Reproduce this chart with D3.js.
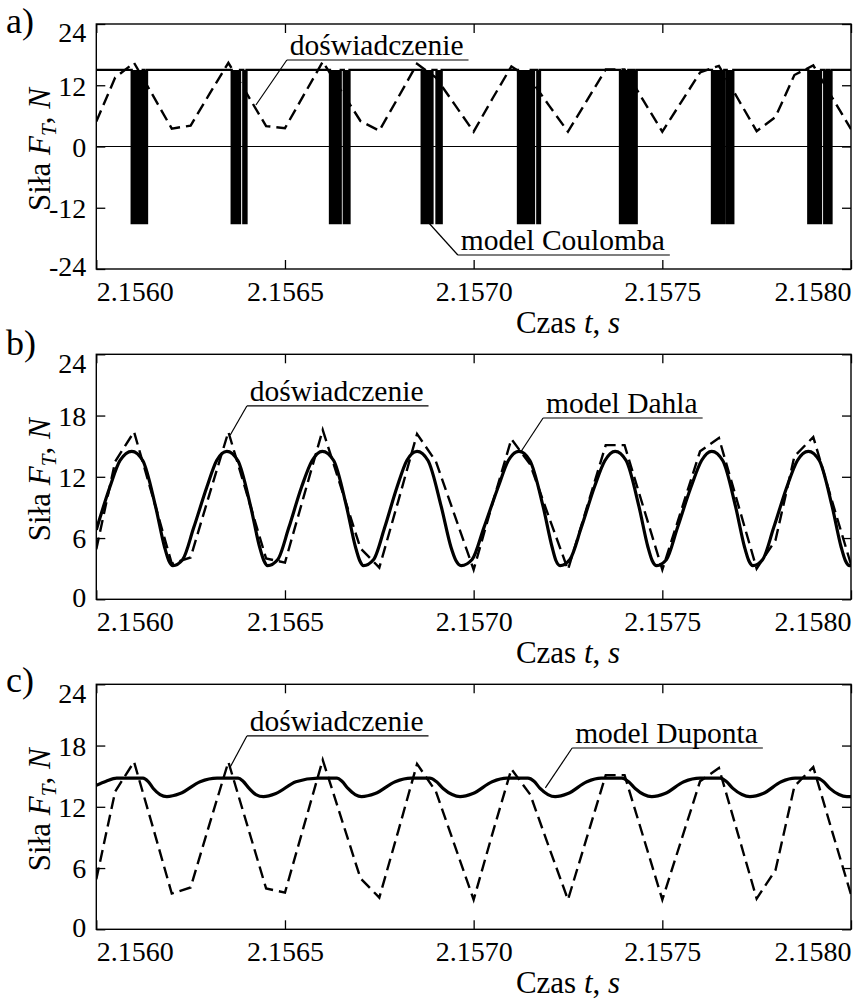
<!DOCTYPE html>
<html><head><meta charset="utf-8">
<script src="https://cdn.jsdelivr.net/npm/d3@7"></script>
<style>
body{margin:0;background:#fff}
svg{font-family:"Liberation Serif","Times New Roman",serif}
text{font-family:"Liberation Serif","Times New Roman",serif;fill:#000}
</style>
</head><body>
<svg id="c" width="855" height="1001"></svg>
<script>
// ---------- DATA ----------
const xTicks = [2.1560, 2.1565, 2.1570, 2.1575, 2.1580];
const xTickLabels = ["2.1560", "2.1565", "2.1570", "2.1575", "2.1580"];
const yTicksA = [-24, -12, 0, 12, 24];
const yTickLabelsA = ["-24", "-12", "0", "12", "24"];
const yTicksBC = [0, 6, 12, 18, 24];
const yTickLabelsBC = ["0", "6", "12", "18", "24"];

// experiment (doświadczenie), sampled every 0.00005 s
const expTime = [2.15600,2.15605,2.15610,2.15615,2.15620,2.15625,2.15630,2.15635,2.15640,2.15645,
  2.15650,2.15655,2.15660,2.15665,2.15670,2.15675,2.15680,2.15685,2.15690,2.15695,
  2.15700,2.15705,2.15710,2.15715,2.15720,2.15725,2.15730,2.15735,2.15740,2.15745,
  2.15750,2.15755,2.15760,2.15765,2.15770,2.15775,2.15780,2.15785,2.15790,2.15795,2.15800];
const expForce = [4.9,13.5,16.4,10.0,3.5,4.1,10.3,16.4,10.2,4.0,
  3.6,10.1,16.6,10.8,5.0,3.1,9.6,16.2,13.5,8.2,
  2.9,9.4,15.7,13.2,8.0,2.9,9.0,15.1,15.1,9.0,
  2.9,8.7,14.5,15.8,9.4,3.0,5.8,14.0,15.9,9.6,3.4];

// Coulomb model (step signal, +15 / -15)
const coulombTime = [2.1560000,2.1560938,2.1561230,2.1561277,2.1561344,
  2.1563588,2.1563808,2.1563896,2.1563980,
  2.1566193,2.1566477,2.1566559,2.1566710,
  2.1568623,2.1568909,2.1569015,2.1569153,
  2.1571175,2.1571512,2.1571565,2.1571599,2.1571687,2.1571758,
  2.1573878,2.1574098,2.1574135,2.1574196,2.1574257,2.1574321,
  2.1576316,2.1576642,2.1576706,2.1576881,
  2.1578868,2.1579205,2.1579290,2.1579356,2.1579417,2.1579483,2.1580000];
const coulombForce = [15,-15,15,-15,15,
  -15,15,-15,15,
  -15,15,-15,15,
  -15,15,-15,15,
  -15,15,-15,15,-15,15,
  -15,15,-15,15,-15,15,
  -15,15,-15,15,
  -15,15,-15,15,-15,15,15];

// Dahl model
const dahlTime = [2.156000,2.156036,2.156063,2.156094,2.156123,2.156157,2.156181,2.156192,2.156203,
  2.156229,2.156258,2.156293,2.156319,2.156346,2.156375,2.156409,2.156433,2.156444,2.156454,
  2.156481,2.156510,2.156544,2.156572,2.156599,2.156629,2.156663,2.156687,2.156698,2.156708,
  2.156735,2.156764,2.156797,2.156823,2.156850,2.156879,2.156914,2.156940,2.156953,2.156967,
  2.156996,2.157027,2.157065,2.157092,2.157120,2.157149,2.157184,2.157208,2.157218,2.157229,
  2.157255,2.157285,2.157320,2.157348,2.157375,2.157404,2.157438,2.157462,2.157473,2.157485,
  2.157511,2.157540,2.157576,2.157604,2.157631,2.157660,2.157694,2.157718,2.157729,2.157740,
  2.157766,2.157795,2.157830,2.157858,2.157887,2.157916,2.157950,2.157974,2.157985,2.157996,2.158000];
const dahlForce = [6.8,11.0,13.6,14.5,13.6,9.1,5.1,3.8,3.3,
  3.9,7.0,11.0,13.6,14.5,13.6,9.1,5.1,3.8,3.3,
  3.9,7.0,11.0,13.6,14.5,13.6,9.1,5.1,3.8,3.3,
  3.9,7.0,11.0,13.6,14.5,13.6,9.1,5.1,3.8,3.3,
  3.9,7.0,11.0,13.6,14.5,13.6,9.1,5.1,3.8,3.3,
  3.9,7.0,11.0,13.6,14.5,13.6,9.1,5.1,3.8,3.3,
  3.9,7.0,11.0,13.6,14.5,13.6,9.1,5.1,3.8,3.3,
  3.9,7.0,11.0,13.6,14.5,13.6,9.1,5.1,3.8,3.3,3.3];

// Dupont model
const dupontTime = [2.156000,2.156026,2.156054,2.156124,2.156137,2.156151,2.156169,2.156187,
  2.156222,2.156275,2.156320,2.156376,2.156389,2.156405,2.156423,2.156443,
  2.156476,2.156529,2.156588,2.156638,2.156651,2.156667,2.156686,2.156703,
  2.156739,2.156792,2.156834,2.156884,2.156900,2.156919,2.156943,2.156964,
  2.156998,2.157049,2.157088,2.157144,2.157160,2.157176,2.157197,2.157216,
  2.157250,2.157300,2.157338,2.157393,2.157409,2.157428,2.157451,2.157472,
  2.157507,2.157557,2.157600,2.157653,2.157669,2.157687,2.157711,2.157732,
  2.157767,2.157815,2.157852,2.157910,2.157926,2.157944,2.157968,2.157989,2.158000];
const dupontForce = [14.1,14.5,14.8,14.8,14.5,13.8,13.2,13.0,
  13.3,14.45,14.8,14.8,14.5,13.8,13.2,13.0,
  13.3,14.45,14.8,14.8,14.5,13.8,13.2,13.0,
  13.3,14.45,14.8,14.8,14.5,13.8,13.2,13.0,
  13.3,14.45,14.8,14.8,14.5,13.8,13.2,13.0,
  13.3,14.45,14.8,14.8,14.5,13.8,13.2,13.0,
  13.3,14.45,14.8,14.8,14.5,13.8,13.2,13.0,
  13.3,14.45,14.8,14.8,14.5,13.8,13.2,13.0,13.0];

// ---------- LAYOUT ----------
const svg = d3.select("#c");
const left = 96.3, right = 851, ph = 245;
const tops = [24, 354.3, 684.3];
const x = d3.scaleLinear().domain([xTicks[0], xTicks[xTicks.length-1]]).range([left, right]);
const zip = (t, v) => t.map((d, i) => [d, v[i]]);
const expData = zip(expTime, expForce);
const FONT = '"Liberation Serif","Times New Roman",serif';

function drawPanel(i, cfg) {
  const top = tops[i], bottom = top + ph;
  const y = d3.scaleLinear().domain([cfg.yTicks[0], cfg.yTicks[cfg.yTicks.length-1]]).range([bottom, top]);
  const g = svg.append("g").style("font-family", FONT);
  const clipId = "clip" + i;
  svg.append("clipPath").attr("id", clipId).append("rect")
    .attr("x", left).attr("y", top).attr("width", right-left).attr("height", ph);
  const plot = g.append("g").attr("clip-path", `url(#${clipId})`);
  cfg.draw(plot, y);

  const line = d3.line().x(d => x(d[0])).y(d => y(d[1]));
  plot.append("path").datum(expData).attr("d", line)
    .attr("fill", "none").attr("stroke", "#000").attr("stroke-width", 2.4)
    .attr("stroke-dasharray", "12,6");

  // frame
  g.append("rect").attr("x", left).attr("y", top).attr("width", right-left).attr("height", ph)
    .attr("fill", "none").attr("stroke", "#000").attr("stroke-width", 1.4);

  // axes
  const styleAxis = a => { a.attr("font-size", null).attr("font-family", null).style("font-family", FONT);
    a.select(".domain").remove(); a.selectAll("line").attr("stroke-width", 1.3); };
  const axB = g.append("g").attr("transform", `translate(0,${bottom})`)
    .call(d3.axisBottom(x).tickValues(xTicks).tickSize(-9).tickSizeOuter(0).tickFormat((d, j) => xTickLabels[j]));
  styleAxis(axB);
  axB.selectAll("text").attr("y", 32).attr("dy", 0).style("font-size", "28px")
    .attr("text-anchor", (d, j) => j === 0 ? "start" : (j === xTicks.length-1 ? "end" : "middle"));
  const axT = g.append("g").attr("transform", `translate(0,${top})`)
    .call(d3.axisTop(x).tickValues(xTicks).tickSize(-9).tickSizeOuter(0).tickFormat(""));
  styleAxis(axT);
  const axL = g.append("g").attr("transform", `translate(${left},0)`)
    .call(d3.axisLeft(y).tickValues(cfg.yTicks).tickSize(-9).tickSizeOuter(0).tickFormat((d, j) => cfg.yLabels[j]));
  styleAxis(axL);
  axL.selectAll("text").attr("x", -10).attr("dy", "0.35em").style("font-size", "28px")
    .attr("y", (d, j) => j === 0 ? -3 : (j === cfg.yTicks.length-1 ? 8 : 0));
  const axR = g.append("g").attr("transform", `translate(${right},0)`)
    .call(d3.axisRight(y).tickValues(cfg.yTicks).tickSize(-9).tickSizeOuter(0).tickFormat(""));
  styleAxis(axR);

  // x label
  const xl = g.append("text").attr("x", 568).attr("y", bottom + 64).attr("text-anchor", "middle").style("font-size", "31px");
  xl.append("tspan").text("Czas ");
  xl.append("tspan").attr("font-style", "italic").text("t");
  xl.append("tspan").text(", ");
  xl.append("tspan").attr("font-style", "italic").text("s");

  // y label
  const yl = g.append("text").attr("transform", `translate(50,${top + ph/2 + 3}) rotate(-90)`)
    .attr("text-anchor", "middle").style("font-size", "31px");
  yl.append("tspan").text("Siła ");
  yl.append("tspan").attr("font-style", "italic").text("F");
  yl.append("tspan").attr("font-style", "italic").attr("dy", 6).style("font-size", "21px").text("T");
  yl.append("tspan").attr("dy", -6).text(", ");
  yl.append("tspan").attr("font-style", "italic").text("N");

  // panel label
  g.append("text").attr("x", 6).attr("y", cfg.labelY).style("font-size", "36px").text(cfg.label);

  // annotations
  cfg.notes.forEach(n => {
    const ux = x(n.t), uy = y(n.v);
    const tx = g.append("text").attr("x", ux + 3).attr("y", uy - 5).style("font-size", "29.5px").text(n.text);
    const len = tx.node().getComputedTextLength();
    g.append("line").attr("x1", ux).attr("x2", ux + 3 + len + 5).attr("y1", uy).attr("y2", uy)
      .attr("stroke", "#000").attr("stroke-width", 1.2);
    g.append("line").attr("x1", ux).attr("y1", uy).attr("x2", x(n.te)).attr("y2", y(n.ve))
      .attr("stroke", "#000").attr("stroke-width", 1.2);
  });
}

// panel a
drawPanel(0, {
  yTicks: yTicksA, yLabels: yTickLabelsA, label: "a)", labelY: 33,
  notes: [
    {text: "doświadczenie", t: 2.156505, v: 16.95, te: 2.156423, ve: 8.13},
    {text: "model Coulomba", t: 2.156958, v: -21.26, te: 2.156879, ve: -14.79}
  ],
  draw: (p, y) => {
    p.append("line").attr("x1", left).attr("x2", right).attr("y1", y(0)).attr("y2", y(0))
      .attr("stroke", "#000").attr("stroke-width", 1.2);
    const cd = zip(coulombTime, coulombForce);
    p.append("path").datum(cd)
      .attr("d", d3.area().curve(d3.curveStepAfter).x(d => x(d[0])).y0(y(15)).y1(d => y(d[1])))
      .attr("fill", "#000");
    p.append("path").datum(cd)
      .attr("d", d3.line().curve(d3.curveStepAfter).x(d => x(d[0])).y(d => y(d[1])))
      .attr("fill", "none").attr("stroke", "#000").attr("stroke-width", 2.3);
  }
});

// panel b
drawPanel(1, {
  yTicks: yTicksBC, yLabels: yTickLabelsBC, label: "b)", labelY: 355,
  notes: [
    {text: "doświadczenie", t: 2.156399, v: 18.94, te: 2.156355, ve: 16.1},
    {text: "model Dahla", t: 2.157184, v: 17.76, te: 2.157123, ve: 14.33}
  ],
  draw: (p, y) => {
    p.append("path").datum(zip(dahlTime, dahlForce))
      .attr("d", d3.line().curve(d3.curveMonotoneX).x(d => x(d[0])).y(d => y(d[1])))
      .attr("fill", "none").attr("stroke", "#000").attr("stroke-width", 3.2);
  }
});

// panel c
drawPanel(2, {
  yTicks: yTicksBC, yLabels: yTickLabelsBC, label: "c)", labelY: 692,
  notes: [
    {text: "doświadczenie", t: 2.156399, v: 18.94, te: 2.156355, ve: 15.9},
    {text: "model Duponta", t: 2.157261, v: 17.76, te: 2.157190, ve: 13.85}
  ],
  draw: (p, y) => {
    p.append("path").datum(zip(dupontTime, dupontForce))
      .attr("d", d3.line().curve(d3.curveMonotoneX).x(d => x(d[0])).y(d => y(d[1])))
      .attr("fill", "none").attr("stroke", "#000").attr("stroke-width", 3.2);
  }
});
</script>
</body></html>
